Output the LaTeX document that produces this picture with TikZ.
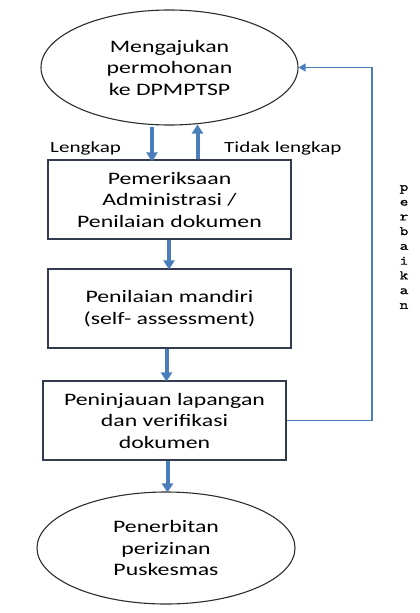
\documentclass[tikz,border=0pt]{standalone}
\usepackage{fontspec}
\setmainfont{Carlito}[FakeStretch=1.36]
\newfontfamily\monofnt{Latin Modern Mono}[FakeStretch=1.3,FakeBold=1.2]
\usetikzlibrary{shapes.geometric,arrows.meta}
\definecolor{flowblue}{RGB}{74,126,187}
\definecolor{boxline}{RGB}{50,60,78}
\definecolor{ellline}{RGB}{45,45,45}
\begin{document}
\begin{tikzpicture}[x=1pt,y=-1pt,
  ellnode/.style={ellipse,draw=ellline,line width=1.1pt,inner sep=0pt,align=center,
    font=\fontsize{17.5}{21.5}\selectfont},
  boxnode/.style={rectangle,draw=boxline,line width=1.1pt,inner sep=0pt,align=center,
    minimum width=243pt,minimum height=79pt,font=\fontsize{17.5}{21.5}\selectfont},
  lbl/.style={anchor=base west,inner sep=0pt,font=\fontsize{15.5}{18}\selectfont},
  bigarrow/.style={draw=flowblue,line width=4pt,-{Triangle[width=11pt,length=9pt]}},
  fbline/.style={draw=flowblue,line width=1.2pt,-{Triangle[width=8pt,length=7pt]}}]
\useasboundingbox (0,0) rectangle (420,613);

\node[ellnode,minimum width=257pt,minimum height=115pt] (e1) at (169.5,67.5)
  {Mengajukan\\permohonan\\ke DPMPTSP};
\node[boxnode] (b1) at (169.5,199.5) {Pemeriksaan\\Administrasi /\\Penilaian dokumen};
\node[boxnode] (b2) at (169.5,308.5) {Penilaian mandiri\\(self- assessment)};
\node[boxnode] (b3) at (164.5,420.5) {Peninjauan lapangan\\dan verifikasi\\dokumen};
\node[ellnode,minimum width=258pt,minimum height=112pt] (e2) at (166,548)
  {Penerbitan\\perizinan\\Puskesmas};

\node[lbl] (l1) at (50,152.3) {Lengkap};
\node[lbl] (l2) at (224,152.3) {Tidak lengkap};

\node[inner sep=0pt,align=center,font=\monofnt\fontsize{13}{14.75}\selectfont] (pb) at (404,247)
  {p\\e\\r\\b\\a\\i\\k\\a\\n};

\coordinate (xa) at (152,0);
\coordinate (xb) at (197.5,0);
\coordinate (xc) at (169,0);
\coordinate (xd) at (166.5,0);
\coordinate (xe) at (167.5,0);
\coordinate (xf) at (372,0);

\draw[bigarrow] ([yshift=-1pt]e1.south -| xa) -- ([yshift=-2pt]b1.north -| xa);
\draw[bigarrow] (b1.north -| xb) -- ([yshift=1pt]e1.south -| xb);
\draw[bigarrow] (b1.south -| xc) -- ([yshift=-1pt]b2.north -| xc);
\draw[bigarrow] (b2.south -| xd) -- ([yshift=-1pt]b3.north -| xd);
\draw[bigarrow] (b3.south -| xe) -- ([yshift=-1pt]e2.north -| xe);
\draw[fbline] (b3.east) -- (b3.east -| xf) |- (e1.east);
\end{tikzpicture}
\end{document}
